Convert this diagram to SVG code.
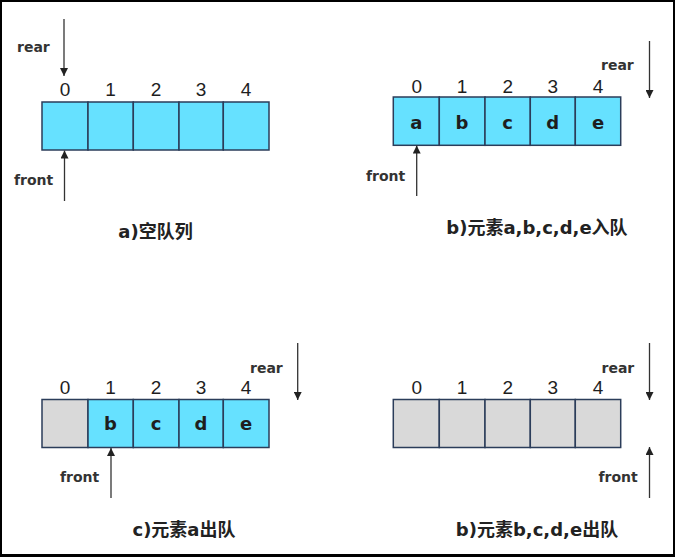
<svg xmlns="http://www.w3.org/2000/svg" width="675" height="557" viewBox="0 0 675 557">
<style>
.cell{fill:#66e1ff;stroke:#2b3d5a;stroke-width:1.5}
.empty{fill:#d9d9d9;stroke:#2b3d5a;stroke-width:1.5}
.idx{font-family:"Liberation Sans","Open Sans",sans-serif;font-size:19px;fill:#1e1e1e;text-anchor:middle}
.val{font-family:"DejaVu Sans",sans-serif;font-weight:bold;font-size:18px;fill:#1e1e1e;text-anchor:middle}
.ptr{font-family:"DejaVu Sans",sans-serif;font-weight:bold;font-size:14px;fill:#333}
.cap{font-family:"DejaVu Sans","Noto Sans CJK SC",sans-serif;font-weight:bold;font-size:18px;fill:#222;text-anchor:middle}
.arr{stroke:#333;stroke-width:1.3;fill:none;marker-end:url(#ah)}
</style>
<defs>
<marker id="ah" viewBox="0 0 8 8" refX="8" refY="4" markerWidth="8" markerHeight="8" markerUnits="userSpaceOnUse" orient="auto">
<path d="M0,0 L8,4 L0,8 z" fill="#222"/>
</marker>
</defs>
<rect x="0" y="0" width="675" height="557" fill="#000"/>
<rect x="2" y="2" width="671" height="552" fill="#fff"/>

<g id="panel-a">
<g id="a-cells">
<rect class="cell" x="42" y="102" width="46" height="48"/>
<rect class="cell" x="88" y="102" width="45.3" height="48"/>
<rect class="cell" x="133.3" y="102" width="45.7" height="48"/>
<rect class="cell" x="179" y="102" width="44.3" height="48"/>
<rect class="cell" x="223.3" y="102" width="45.7" height="48"/>
</g>
<text class="idx" x="65" y="96">0</text>
<text class="idx" x="110.5" y="96">1</text>
<text class="idx" x="156" y="96">2</text>
<text class="idx" x="201" y="96">3</text>
<text class="idx" x="246" y="96">4</text>
<text class="ptr" x="17" y="52">rear</text>
<text class="ptr" x="14" y="185">front</text>
<text class="cap" x="155.5" y="238">a)空队列</text>
</g>

<g id="panel-b">
<g id="b-cells">
<rect class="cell" x="393.3" y="97" width="46" height="48.3"/>
<rect class="cell" x="439.3" y="97" width="45.7" height="48.3"/>
<rect class="cell" x="485" y="97" width="45.3" height="48.3"/>
<rect class="cell" x="530.3" y="97" width="45" height="48.3"/>
<rect class="cell" x="575.3" y="97" width="45.4" height="48.3"/>
</g>
<text class="idx" x="416.7" y="93">0</text>
<text class="idx" x="462" y="93">1</text>
<text class="idx" x="507.7" y="93">2</text>
<text class="idx" x="552.8" y="93">3</text>
<text class="idx" x="598" y="93">4</text>
<text class="val" x="416.3" y="129">a</text>
<text class="val" x="462" y="129">b</text>
<text class="val" x="507.7" y="129">c</text>
<text class="val" x="552.8" y="129">d</text>
<text class="val" x="598" y="129">e</text>
<text class="ptr" x="601" y="70">rear</text>
<text class="ptr" x="366" y="181">front</text>
<text class="cap" x="537" y="234">b)元素a,b,c,d,e入队</text>
</g>

<g id="panel-c">
<g id="c-cells">
<rect class="empty" x="42" y="399.5" width="46" height="48"/>
<rect class="cell" x="88" y="399.5" width="45.3" height="48"/>
<rect class="cell" x="133.3" y="399.5" width="45.7" height="48"/>
<rect class="cell" x="179" y="399.5" width="44.3" height="48"/>
<rect class="cell" x="223.3" y="399.5" width="45.7" height="48"/>
</g>
<text class="idx" x="65" y="394">0</text>
<text class="idx" x="110.5" y="394">1</text>
<text class="idx" x="156" y="394">2</text>
<text class="idx" x="201" y="394">3</text>
<text class="idx" x="246" y="394">4</text>
<text class="val" x="110.5" y="430">b</text>
<text class="val" x="156" y="430">c</text>
<text class="val" x="201" y="430">d</text>
<text class="val" x="246" y="430">e</text>
<text class="ptr" x="250" y="373">rear</text>
<text class="ptr" x="60" y="482">front</text>
<text class="cap" x="184" y="536">c)元素a出队</text>
</g>

<g id="panel-d">
<g id="d-cells">
<rect class="empty" x="393.3" y="399.5" width="46" height="48"/>
<rect class="empty" x="439.3" y="399.5" width="45.7" height="48"/>
<rect class="empty" x="485" y="399.5" width="45.3" height="48"/>
<rect class="empty" x="530.3" y="399.5" width="45" height="48"/>
<rect class="empty" x="575.3" y="399.5" width="45.4" height="48"/>
</g>
<text class="idx" x="416.7" y="394">0</text>
<text class="idx" x="462" y="394">1</text>
<text class="idx" x="507.7" y="394">2</text>
<text class="idx" x="552.8" y="394">3</text>
<text class="idx" x="598" y="394">4</text>
<text class="ptr" x="601.5" y="373">rear</text>
<text class="ptr" x="598.5" y="482">front</text>
<text class="cap" x="537" y="536">b)元素b,c,d,e出队</text>
</g>

<g id="connectors">
<line class="arr" x1="64" y1="19" x2="64" y2="76"/>
<line class="arr" x1="64.5" y1="201" x2="64.5" y2="150.5"/>
<line class="arr" x1="649.5" y1="41" x2="649.5" y2="98"/>
<line class="arr" x1="416.7" y1="196" x2="416.7" y2="145.5"/>
<line class="arr" x1="297.7" y1="343" x2="297.7" y2="400"/>
<line class="arr" x1="111" y1="498" x2="111" y2="448"/>
<line class="arr" x1="649.5" y1="343" x2="649.5" y2="400"/>
<line class="arr" x1="649.5" y1="498" x2="649.5" y2="447"/>
</g>
</svg>
